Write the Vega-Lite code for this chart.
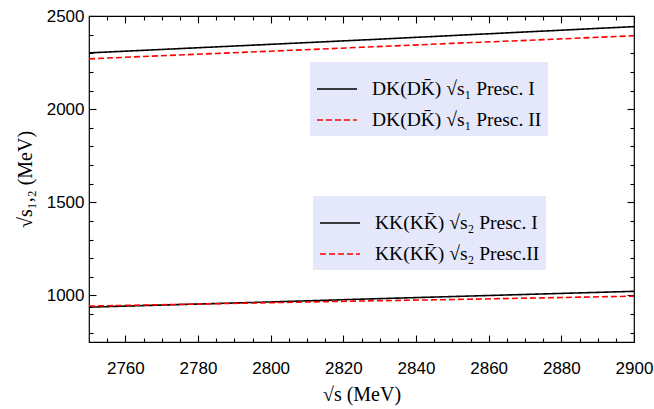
{
  "$schema": "https://vega.github.io/schema/vega-lite/v6.json",
  "autosize": "none",
  "width": 545,
  "height": 326,
  "padding": {"left": 89, "top": 16, "right": 20, "bottom": 67},
  "background": "white",
  "config": {
    "view": {"stroke": "black", "strokeWidth": 1.2},
    "axis": {
      "labelFont": "Liberation Sans",
      "labelFontSize": 17,
      "labelColor": "black",
      "labelFlush": false,
      "labelOverlap": false,
      "titleFont": "Liberation Serif",
      "titleFontSize": 20,
      "titleFontWeight": "normal",
      "titleColor": "black",
      "ticks": true,
      "tickColor": "black",
      "tickWidth": 1.1,
      "domainColor": "black",
      "grid": false,
      "domain": false,
      "format": "d"
    },
    "legend": {
      "labelFont": "Liberation Serif",
      "labelFontSize": 19.5,
      "labelColor": "black",
      "symbolType": "stroke",
      "symbolSize": 1600,
      "symbolStrokeWidth": 1.6,
      "rowPadding": -8,
      "padding": 6,
      "labelOffset": 14,
      "fillColor": "#e4e8fa",
      "labelLimit": 400
    }
  },
  "data": {
    "values": [
      {"x": 2750, "y": 2302, "group": "DK", "series": "DK(DK̄) √s₁ Presc. I"},
      {"x": 2775, "y": 2325, "group": "DK", "series": "DK(DK̄) √s₁ Presc. I"},
      {"x": 2800, "y": 2348, "group": "DK", "series": "DK(DK̄) √s₁ Presc. I"},
      {"x": 2825, "y": 2371, "group": "DK", "series": "DK(DK̄) √s₁ Presc. I"},
      {"x": 2850, "y": 2395, "group": "DK", "series": "DK(DK̄) √s₁ Presc. I"},
      {"x": 2875, "y": 2419, "group": "DK", "series": "DK(DK̄) √s₁ Presc. I"},
      {"x": 2900, "y": 2443, "group": "DK", "series": "DK(DK̄) √s₁ Presc. I"},
      {"x": 2750, "y": 2270, "group": "DK", "series": "DK(DK̄) √s₁ Presc. II"},
      {"x": 2775, "y": 2291, "group": "DK", "series": "DK(DK̄) √s₁ Presc. II"},
      {"x": 2800, "y": 2311, "group": "DK", "series": "DK(DK̄) √s₁ Presc. II"},
      {"x": 2825, "y": 2332, "group": "DK", "series": "DK(DK̄) √s₁ Presc. II"},
      {"x": 2850, "y": 2353, "group": "DK", "series": "DK(DK̄) √s₁ Presc. II"},
      {"x": 2875, "y": 2373, "group": "DK", "series": "DK(DK̄) √s₁ Presc. II"},
      {"x": 2900, "y": 2394, "group": "DK", "series": "DK(DK̄) √s₁ Presc. II"},
      {"x": 2750, "y": 937, "group": "KK", "series": "KK(KK̄) √s₂ Presc. I"},
      {"x": 2775, "y": 951, "group": "KK", "series": "KK(KK̄) √s₂ Presc. I"},
      {"x": 2800, "y": 965, "group": "KK", "series": "KK(KK̄) √s₂ Presc. I"},
      {"x": 2825, "y": 980, "group": "KK", "series": "KK(KK̄) √s₂ Presc. I"},
      {"x": 2850, "y": 994, "group": "KK", "series": "KK(KK̄) √s₂ Presc. I"},
      {"x": 2875, "y": 1008, "group": "KK", "series": "KK(KK̄) √s₂ Presc. I"},
      {"x": 2900, "y": 1022, "group": "KK", "series": "KK(KK̄) √s₂ Presc. I"},
      {"x": 2750, "y": 943, "group": "KK", "series": "KK(KK̄) √s₂ Presc.II"},
      {"x": 2775, "y": 952, "group": "KK", "series": "KK(KK̄) √s₂ Presc.II"},
      {"x": 2800, "y": 961, "group": "KK", "series": "KK(KK̄) √s₂ Presc.II"},
      {"x": 2825, "y": 970, "group": "KK", "series": "KK(KK̄) √s₂ Presc.II"},
      {"x": 2850, "y": 978, "group": "KK", "series": "KK(KK̄) √s₂ Presc.II"},
      {"x": 2875, "y": 987, "group": "KK", "series": "KK(KK̄) √s₂ Presc.II"},
      {"x": 2900, "y": 996, "group": "KK", "series": "KK(KK̄) √s₂ Presc.II"}
    ]
  },
  "layer": [
    {
      "transform": [{"filter": "datum.group === 'DK'"}],
      "mark": {"type": "line", "strokeWidth": 1.6},
      "encoding": {
        "x": {"field": "x", "type": "quantitative", "scale": {"domain": [2750, 2900], "nice": false, "zero": false},
          "axis": {"orient": "bottom", "values": [2760, 2780, 2800, 2820, 2840, 2860, 2880, 2900], "offset": -7, "tickSize": 7, "labelPadding": 18, "title": "√s (MeV)", "titlePadding": 8}},
        "y": {"field": "y", "type": "quantitative", "scale": {"domain": [750, 2500], "nice": false, "zero": false},
          "axis": {"orient": "left", "values": [1000, 1500, 2000, 2500], "offset": -7, "tickSize": 7, "labelPadding": 5, "title": "√s₁,₂ (MeV)", "titlePadding": 11}},
        "color": {"field": "series", "type": "nominal", "scale": {"domain": ["DK(DK̄) √s₁ Presc. I", "DK(DK̄) √s₁ Presc. II"], "range": ["#000000", "#ff0000"]},
          "legend": {"title": null, "orient": "none", "legendX": 221, "legendY": 46}},
        "strokeDash": {"field": "series", "type": "nominal", "scale": {"domain": ["DK(DK̄) √s₁ Presc. I", "DK(DK̄) √s₁ Presc. II"], "range": [[1, 0], [6, 3]]},
          "legend": {"title": null, "orient": "none", "legendX": 221, "legendY": 46}}
      }
    },
    {
      "transform": [{"filter": "datum.group === 'KK'"}],
      "mark": {"type": "line", "strokeWidth": 1.6},
      "encoding": {
        "x": {"field": "x", "type": "quantitative",
          "axis": {"orient": "bottom", "values": [2755, 2765, 2770, 2775, 2785, 2790, 2795, 2805, 2810, 2815, 2825, 2830, 2835, 2845, 2850, 2855, 2865, 2870, 2875, 2885, 2890, 2895], "offset": -4, "tickSize": 4, "labels": false, "title": null}},
        "y": {"field": "y", "type": "quantitative",
          "axis": {"orient": "left", "values": [800, 900, 1100, 1200, 1300, 1400, 1600, 1700, 1800, 1900, 2100, 2200, 2300, 2400], "offset": -4, "tickSize": 4, "labels": false, "title": null}},
        "color": {"field": "series", "type": "nominal", "scale": {"domain": ["KK(KK̄) √s₂ Presc. I", "KK(KK̄) √s₂ Presc.II"], "range": ["#000000", "#ff0000"]},
          "legend": {"title": null, "orient": "none", "legendX": 224, "legendY": 180}},
        "strokeDash": {"field": "series", "type": "nominal", "scale": {"domain": ["KK(KK̄) √s₂ Presc. I", "KK(KK̄) √s₂ Presc.II"], "range": [[1, 0], [6, 3]]},
          "legend": {"title": null, "orient": "none", "legendX": 224, "legendY": 180}}
      }
    },
    {
      "transform": [{"filter": "datum.group === 'DK'"}],
      "mark": {"type": "line", "opacity": 0},
      "encoding": {
        "detail": {"field": "series"},
        "x": {"field": "x", "type": "quantitative",
          "axis": {"orient": "top", "values": [2760, 2780, 2800, 2820, 2840, 2860, 2880, 2900], "offset": -7, "tickSize": 7, "labels": false, "title": null}},
        "y": {"field": "y", "type": "quantitative",
          "axis": {"orient": "right", "values": [1000, 1500, 2000, 2500], "offset": -7, "tickSize": 7, "labels": false, "title": null}}
      }
    },
    {
      "transform": [{"filter": "datum.group === 'KK'"}],
      "mark": {"type": "line", "opacity": 0},
      "encoding": {
        "detail": {"field": "series"},
        "x": {"field": "x", "type": "quantitative",
          "axis": {"orient": "top", "values": [2755, 2765, 2770, 2775, 2785, 2790, 2795, 2805, 2810, 2815, 2825, 2830, 2835, 2845, 2850, 2855, 2865, 2870, 2875, 2885, 2890, 2895], "offset": -4, "tickSize": 4, "labels": false, "title": null}},
        "y": {"field": "y", "type": "quantitative",
          "axis": {"orient": "right", "values": [800, 900, 1100, 1200, 1300, 1400, 1600, 1700, 1800, 1900, 2100, 2200, 2300, 2400], "offset": -4, "tickSize": 4, "labels": false, "title": null}}
      }
    }
  ],
  "resolve": {
    "scale": {"color": "independent", "strokeDash": "independent"},
    "axis": {"x": "independent", "y": "independent"}
  }
}
